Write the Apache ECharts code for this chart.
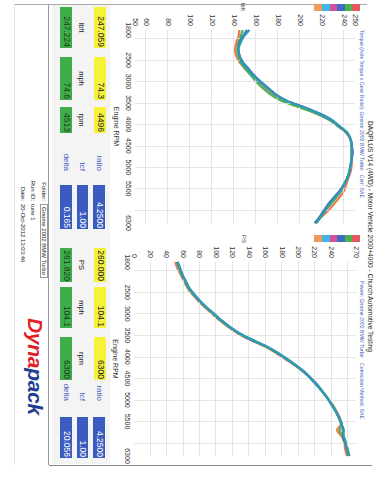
<!DOCTYPE html>
<html><head><meta charset="utf-8">
<script src="https://cdn.jsdelivr.net/npm/echarts@6/dist/echarts.min.js"></script>
<style>
html,body{margin:0;padding:0;background:#fff;overflow:hidden;width:386px;height:500px;}
#page{position:absolute;left:0;top:0;width:500px;height:386px;transform-origin:0 0;transform:translate(386px,0) rotate(90deg);font-family:"Liberation Sans",Arial,sans-serif;background:#fff;}
#chart{position:absolute;left:0;top:0;width:500px;height:386px;}
.abs{position:absolute;white-space:nowrap;}
.box{position:absolute;box-sizing:border-box;text-align:right;padding-right:1px;font-size:8.5px;white-space:nowrap;}
</style></head>
<body>
<div id="page">
  <div id="panel" class="abs" style="left:5px;top:276px;width:459px;height:58px;background:#f4f4f4;"></div>
  <div id="chart"></div>
</div>
<script>
// ---- data ----
const rpm = [1800,1950,2100,2250,2400,2550,2700,2850,3000,3150,3300,3450,3600,3750,3900,4050,4200,4350,4500,4650,4800,4950,5100,5250,5400,5550,5700,5850,6000,6150,6300];
const torqueOrange = [145,144,142,141,142,145,150,156,161,167,174,184,200,215,227,235,242,246,247,247,247,247,246,244,242,240,236,231,226,220,214];
const torqueGreen  = [148,146,144,143,144,146,150,155,160,166,173,183,199,215,227,235,243,246,247,247,247,246,245,243,240,237,233,228,223,219,213];
const torqueBlue   = [152,148,145,144,145,148,153,158,164,171,178,188,204,218,229,236,243,246,247,248,247,246,245,243,240,236,231,226,222,218,214];
const torqueTeal   = [154,149,146,144,145,147,152,157,163,170,177,187,203,217,228,236,243,246,247,247,247,246,245,243,240,237,232,227,223,219,215];
const powerOrange = [50,53,57,61,65,71,78,86,95,104,114,126,141,158,172,184,196,206,215,222,229,235,241,246,250,252,247,253,256,257,259];
const powerGreen  = [52,55,58,62,66,72,79,87,96,105,115,127,142,159,173,185,197,207,215,222,229,235,241,245,249,253,250,255,258,260,262];
const powerBlue   = [53,56,59,63,67,73,80,88,97,106,116,128,143,160,174,186,197,207,215,223,229,235,240,245,249,252,255,254,257,259,261];
const powerTeal   = [53,56,59,63,67,73,80,88,97,106,116,128,143,160,174,186,197,207,215,222,229,235,240,245,249,252,254,255,257,259,261];
const rpmLabels = [1800,2500,3000,3500,4000,4500,5000,5500,6300];
const rpmGridValues = [2000,2500,3000,3500,4000,4500,5000,5500,6000];
const torqueLabels = [50,60,80,100,120,140,160,180,200,220,240,250];
const torqueGridValues = [60,80,100,120,140,160,180,200,220,240];
const powerLabels = [0,20,40,60,80,100,120,140,160,180,200,220,240,270];
const powerGridValues = [20,40,60,80,100,120,140,160,180,200,220,240,260];
const peakA1 = ['247.059','74.3','4496'];
const peakB1 = ['247.224','74.6','4513'];
const units1 = ['lbft','mph','rpm'];
const factors1 = ['4.2500','1.00','0.165'];
const peakA2 = ['260.000','104.1','6300'];
const peakB2 = ['261.820','104.1','6300'];
const units2 = ['PS','mph','rpm'];
const factors2 = ['4.2500','1.00','20.056'];
const factorNames = ['ratio','tcf','delta'];
const legendColors = ['#e45a5c','#4fb04f','#3d6dc2','#d5509c','#3fb6e6','#f29a5e'];
const infoLabels = ['Folder:','Run ID:','Date:'];
const infoValues = ['Gnome 2002 BMW Turbo','tune 1','20-Oct-2012 13:03:46'];

// ---- page decoration (HTML text) ----
const page = document.getElementById('page');
function add(html, style, cls){ const d=document.createElement('div'); d.className=cls||'abs'; d.style.cssText=style; d.innerHTML=html; page.appendChild(d); return d; }
// frame lines
add('', 'left:4px;top:19px;width:1px;height:352px;background:#aaa;');
add('', 'left:4px;top:337px;width:461px;height:1px;background:#999;');
add('', 'left:465px;top:14px;width:1px;height:323px;background:#888;');
add('', 'left:4px;top:371px;width:461px;height:1px;background:#e4e4e4;');
// titles
add('DAQPLUS V14 (4WD) - Motor Vehicle 2000+4000 - Church Automotive Testing','left:121px;top:12px;font-size:6.6px;color:#222;');
add('Torque (Axle Torque x Gear Ratio): Gnome 2002 BMW Turbo &nbsp; Corr: SAE','left:30px;top:21px;font-size:5.2px;color:#3a5fb8;');
add('Power: Gnome 2002 BMW Turbo','left:281px;top:21px;font-size:5.2px;color:#3a5fb8;');
add('Correction Method: SAE','left:363px;top:21px;font-size:5.2px;color:#3a5fb8;');
add('lbft','left:3px;top:140px;font-size:6px;color:#333;');
add('PS','left:235px;top:139px;font-size:6px;color:#333;');
// legend swatches
[[4],[235]].forEach(([u])=>{
  legendColors.forEach((c,i)=>add('', `left:${u}px;top:${26+i*7.6}px;width:7px;height:7.6px;background:${c};`));
});
// data boxes
function panel(u0, boxes, peakA, peakB, units, blueU, blueW, labelRight, factors){
  boxes.forEach(([u,w],i)=>{
    add(peakA[i], `left:${u}px;top:280px;width:${w}px;height:11.5px;line-height:11.5px;background:#f6f23a;color:#222;`, 'box');
    add(units[i], `left:${u}px;top:300px;width:${w}px;text-align:center;font-size:7.5px;color:#222;`);
    add(peakB[i], `left:${u}px;top:314px;width:${w}px;height:11.5px;line-height:11.5px;background:#3fae4a;color:#1b3a1b;`, 'box');
  });
  const rows=[281,297.5,314];
  factorNames.forEach((n,i)=>{
    add(n, `left:${labelRight-30}px;top:${rows[i]+1}px;width:30px;text-align:right;font-size:8px;color:#3a5fc0;`);
    add(factors[i], `left:${blueU}px;top:${rows[i]}px;width:${blueW}px;height:11.5px;line-height:11.5px;background:#3a5cc0;color:#fff;`, 'box');
  });
}
panel(0, [[7,41],[57,43],[107,26]], peakA1, peakB1, units1, 185, 44, 171, factors1);
panel(0, [[248,34],[287,41],[337,43]], peakA2, peakB2, units2, 417, 41, 401, factors2);
// folder info
infoLabels.forEach((l,i)=>{
  const v=339+i*10.5;
  add(l, `left:161px;top:${v}px;width:40px;text-align:right;font-size:6px;color:#222;`);
  add(infoValues[i], `left:204px;top:${v-(i===0?1:0)}px;font-size:6px;color:#222;`+(i===0?'border:0.5px solid #999;padding:0 2px;':''));
});
// logo
add('<span style="color:#e01f26">Dyna</span><span style="color:#1f3e8f">pack</span>','left:318px;top:340px;font-size:21px;font-weight:bold;font-style:italic;line-height:21px;letter-spacing:-0.3px;');

// ---- chart ----
const chart = echarts.init(document.getElementById('chart'), null, {renderer:'svg'});
const pair = arr => rpm.map((r,i)=>[r, arr[i]]);
const gridLineStyle = {color:'#dedede', width:0.8, type:'solid'};
function gridMarks(xs, ys){
  return {silent:true, symbol:'none', label:{show:false}, lineStyle:gridLineStyle, emphasis:{disabled:true}, animation:false,
    data: xs.map(v=>({xAxis:v})).concat(ys.map(v=>({yAxis:v})))};
}
function xAxisCfg(gi){
  return {gridIndex:gi, type:'value', min:1800, max:6300, interval:100,
    axisLine:{show:false}, axisTick:{show:false}, splitLine:{show:false},
    axisLabel:{show:true, showMinLabel:true, showMaxLabel:true, fontSize:7, color:'#333', margin:3, fontFamily:'Liberation Sans',
      formatter:v=>rpmLabels.includes(v)?String(v):''},
    name:'Engine RPM', nameLocation:'middle', nameGap:13, nameTextStyle:{fontSize:7, color:'#333', fontFamily:'Liberation Sans'}};
}
function yAxisCfg(gi, min, max, labels){
  return {gridIndex:gi, type:'value', min:min, max:max, interval:10,
    axisLine:{show:false}, axisTick:{show:false}, splitLine:{show:false},
    axisLabel:{showMinLabel:true, showMaxLabel:true, fontSize:7, color:'#333', margin:4, fontFamily:'Liberation Sans',
      formatter:v=>labels.includes(v)?String(v):''}};
}
const colors = {orange:'#ee7b4c', green:'#55b557', blue:'#3d6fc6', teal:'#2f9bb0'};
function lineSeries(gi, arr, color, z){
  return {type:'line', xAxisIndex:gi, yAxisIndex:gi, data:pair(arr), showSymbol:false, smooth:0.25,
    lineStyle:{color:color, width:2.3}, itemStyle:{color:color}, z:z, animation:false};
}
chart.setOption({
  animation:false,
  grid:[{left:30, top:31, width:193, height:220}, {left:262, top:30, width:194, height:222}],
  xAxis:[xAxisCfg(0), xAxisCfg(1)],
  yAxis:[yAxisCfg(0,50,250,torqueLabels), yAxisCfg(1,0,270,powerLabels)],
  series:[
    {type:'line', xAxisIndex:0, yAxisIndex:0, data:pair(torqueTeal), showSymbol:false, lineStyle:{opacity:0}, z:1, markLine:gridMarks(rpmGridValues, torqueGridValues)},
    {type:'line', xAxisIndex:1, yAxisIndex:1, data:pair(powerTeal), showSymbol:false, lineStyle:{opacity:0}, z:1, markLine:gridMarks(rpmGridValues, powerGridValues)},
    lineSeries(0, torqueOrange, colors.orange, 3),
    lineSeries(0, torqueGreen, colors.green, 4),
    lineSeries(0, torqueBlue, colors.blue, 5),
    lineSeries(0, torqueTeal, colors.teal, 6),
    lineSeries(1, powerOrange, colors.orange, 3),
    lineSeries(1, powerGreen, colors.green, 4),
    lineSeries(1, powerBlue, colors.blue, 5),
    lineSeries(1, powerTeal, colors.teal, 6)
  ]
});
</script>
</body></html>
